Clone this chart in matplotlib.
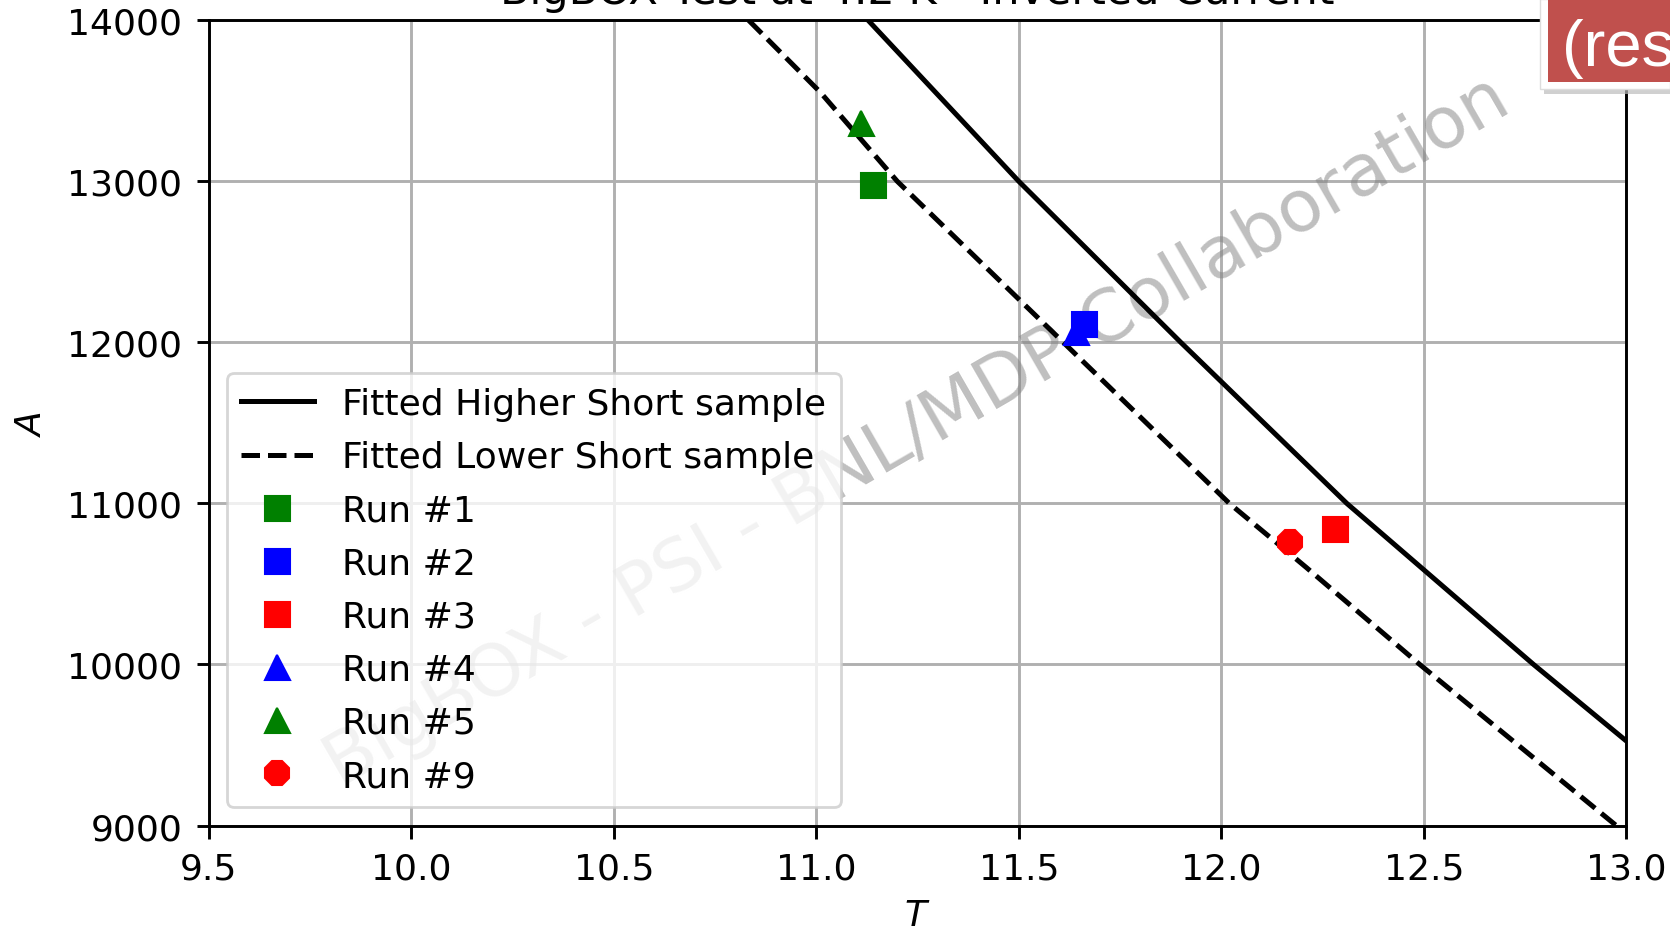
import numpy as np
import matplotlib
matplotlib.use('Agg')
import matplotlib.pyplot as plt
from matplotlib.patches import Rectangle

# fitted short sample curves (T, A)
higher_T = [11.128, 11.50, 11.90, 12.31, 12.771, 13.00]
higher_A = [14000, 13000, 12000, 11000, 10000, 9525]

lower_T = [10.833, 11.01, 11.20, 11.61, 12.02, 12.21, 12.49, 12.975]
lower_A = [14000, 13553, 13000, 12000, 11000, 10602, 10000, 9000]

# measured runs
run_names = ['Run #1', 'Run #2', 'Run #3', 'Run #4', 'Run #5', 'Run #9']
run_T = [11.139, 11.662, 12.281, 11.641, 11.110, 12.170]
run_A = [12975, 12114, 10840, 12064, 13362, 10762]
run_markers = ['s', 's', 's', '^', '^', '8']
run_colors = ['green', 'blue', 'red', 'blue', 'green', 'red']

x_ticks = [9.5, 10.0, 10.5, 11.0, 11.5, 12.0, 12.5, 13.0]
y_ticks = [9000, 10000, 11000, 12000, 13000, 14000]

fig = plt.figure(figsize=(16.7, 9.29), dpi=100)
ax = fig.add_axes([0.12503, 0.11033, 0.8488, 0.86674])

ax.plot(higher_T, higher_A, 'k-', lw=3.6, label='Fitted Higher Short sample')
ax.plot(lower_T, lower_A, 'k--', lw=3.6, label='Fitted Lower Short sample')
for name, t, a, m, c in zip(run_names, run_T, run_A, run_markers, run_colors):
    ax.plot(t, a, linestyle='none', marker=m, color=c, ms=18, mew=1.5, label=name)

ax.set_xlim(9.5, 13.0)
ax.set_ylim(9000, 14000)
ax.set_xticks(x_ticks)
ax.set_yticks(y_ticks)
ax.grid(True, color='#b0b0b0', lw=2.1)
ax.tick_params(labelsize=26, length=9, width=2.1, pad=10)
for sp in ax.spines.values():
    sp.set_linewidth(2.1)

ax.set_xlabel('$T$', fontsize=26, labelpad=9)
ax.set_ylabel('$A$', fontsize=26, labelpad=14)
ax.set_title('BigBOX Test at 4.2 K - Inverted Current', fontsize=31, pad=12.5)

# watermark
ax.text(0.5, 0.489, 'BigBOX - PSI - BNL/MDP Collaboration', transform=ax.transAxes,
        fontsize=52, color='0.5', alpha=0.5, rotation=30, rotation_mode='anchor',
        ha='center', va='center', zorder=1.8)

leg = ax.legend(loc='lower left', fontsize=26, labelspacing=0.53, numpoints=1,
                framealpha=0.8, borderaxespad=0.5)
leg.get_frame().set_linewidth(2.0)

# slide overlay box in the top right corner
W, H = 1670.0, 929.0
shadow = Rectangle((1544 / W, 1 - 95 / H), 130 / W, 95 / H, transform=fig.transFigure,
                   facecolor='#bdbdbd', edgecolor='none', alpha=0.7, zorder=10)
white = Rectangle((1540 / W, 1 - 90 / H), 130 / W, 90 / H, transform=fig.transFigure,
                  facecolor='white', edgecolor='#dddddd', lw=1, zorder=11)
red = Rectangle((1548 / W, 1 - 83 / H), 122 / W, 83 / H, transform=fig.transFigure,
                facecolor='#C0504D', edgecolor='none', zorder=12)
fig.add_artist(shadow)
fig.add_artist(white)
fig.add_artist(red)
fig.text(1562 / W, 1 - 66 / H, '(results', color='white', fontsize=47,
         family='Liberation Sans', va='baseline', ha='left', zorder=13)

fig.savefig('out.png', dpi=100)
